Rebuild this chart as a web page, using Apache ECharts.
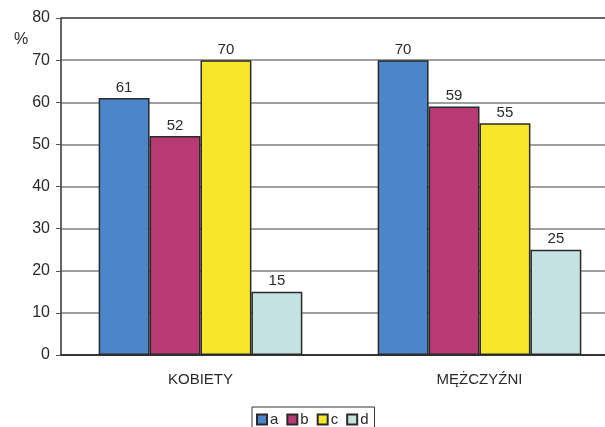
<!DOCTYPE html>
<html>
<head>
<meta charset="utf-8">
<script src="https://cdn.jsdelivr.net/npm/echarts@6/dist/echarts.min.js"></script>
<style>
  html, body { margin: 0; padding: 0; background: #fff; overflow: hidden; }
  /* the plot runs a little past the right edge of the window */
  #chart { width: 619px; height: 427px; }
</style>
</head>
<body>
<div id="chart"></div>
<script>
// Categories and series values (percent)
const categories = ['KOBIETY', 'MĘŻCZYŹNI'];
const seriesNames = ['a', 'b', 'c', 'd'];
const valuesA = [61, 70];
const valuesB = [52, 59];
const valuesC = [70, 55];
const valuesD = [15, 25];
const yTicks = [0, 10, 20, 30, 40, 50, 60, 70, 80];

const colors = ['#4a86c8', '#b83a74', '#f7e62a', '#c3e2e0'];
const allValues = [valuesA, valuesB, valuesC, valuesD];
const FONT = '"Liberation Sans", Arial, sans-serif';

// grid lines are grey, the top one (80) is dark like a frame edge
const splitColors = yTicks.map((t, i) => (i === yTicks.length - 1 ? '#333' : '#808080'));

const chart = echarts.init(document.getElementById('chart'), null, { renderer: 'canvas' });

chart.setOption({
  animation: false,
  textStyle: { fontFamily: FONT },
  grid: { left: 61, right: 0, top: 18, bottom: 72, containLabel: false },
  graphic: [{
    type: 'text', left: 14, top: 32,
    style: { text: '%', font: '16px ' + FONT, fill: '#2a2a2a' }
  }],
  legend: {
    data: seriesNames,
    bottom: -6,
    left: 252,
    itemWidth: 10,
    itemHeight: 10,
    itemGap: 8,
    padding: [5, 6, 6, 4],
    borderColor: '#333',
    borderWidth: 1,
    icon: 'rect',
    textStyle: { fontFamily: FONT, fontSize: 15, color: '#2a2a2a', padding: [0, 0, 0, -2] }
  },
  xAxis: {
    type: 'category',
    data: categories,
    axisTick: { show: false },
    axisLine: { lineStyle: { color: '#333', width: 2 } },
    axisLabel: { fontSize: 15, color: '#2a2a2a', margin: 17, fontFamily: FONT }
  },
  yAxis: {
    type: 'value',
    min: yTicks[0],
    max: yTicks[yTicks.length - 1],
    interval: 10,
    axisLine: { show: true, lineStyle: { color: '#333', width: 1.5 } },
    axisTick: { show: true, length: 5, lineStyle: { color: '#555' } },
    axisLabel: { fontSize: 16, color: '#2a2a2a', margin: 11, fontFamily: FONT },
    splitLine: { lineStyle: { color: splitColors, width: 1.5 } }
  },
  series: seriesNames.map((name, i) => ({
    name: name,
    type: 'bar',
    data: allValues[i],
    barGap: '0%',
    barCategoryGap: '27%',
    itemStyle: { color: colors[i], borderColor: '#2a2a2a', borderWidth: 1.5 },
    label: {
      show: true, position: 'top', distance: 3,
      fontSize: 15, color: '#2a2a2a', fontFamily: FONT
    }
  }))
});
</script>
</body>
</html>
